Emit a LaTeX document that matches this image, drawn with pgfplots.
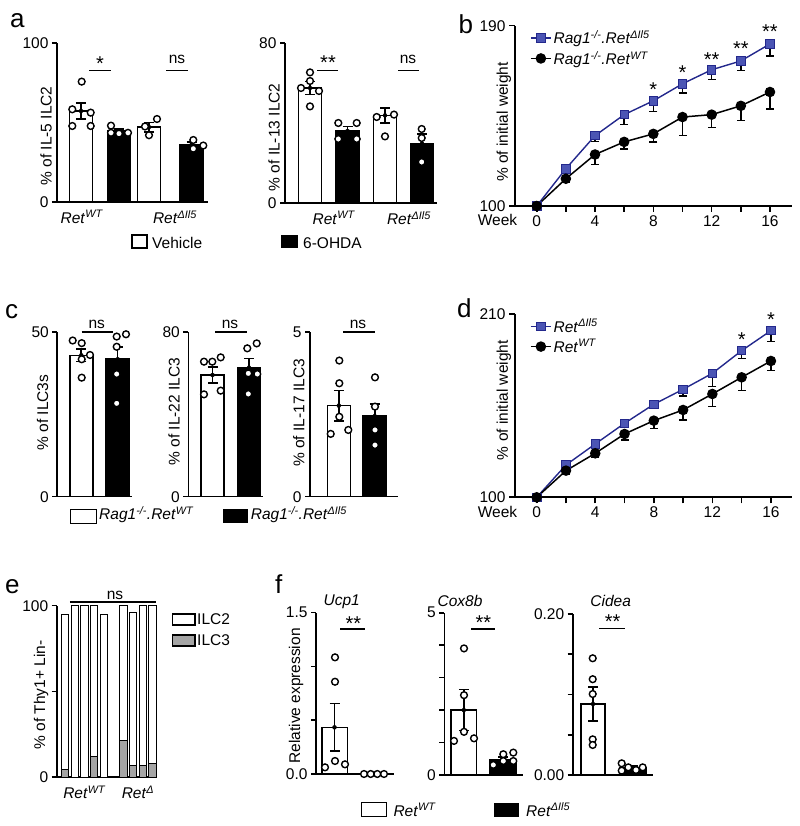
\documentclass[border=0pt]{standalone}
\usepackage{fontspec}
\setmainfont{Liberation Sans}
\usepackage{pgfplots}
\pgfplotsset{compat=1.18}
\newcommand{\fs}{\fontsize{15.5bp}{17bp}\selectfont}
\newcommand{\fst}{\fontsize{20bp}{22bp}\selectfont}
\newcommand{\fsl}{\fontsize{26bp}{30bp}\selectfont}
\newcommand{\RetWT}{\textit{Ret}\textsuperscript{\textit{WT}}}
\newcommand{\RetD}{\textit{Ret}\textsuperscript{\textit{ΔIl5}}}
\newcommand{\Rag}{\textit{Rag1}\textsuperscript{\textit{-/-}}\textit{.}}
\definecolor{bfill}{RGB}{75,85,180}
\definecolor{bline}{RGB}{35,40,140}
\definecolor{ilcgray}{RGB}{165,165,165}
\tikzset{sig/.style={line width=1.6bp, black},
  star/.style={font=\fst, anchor=base, yshift=-2.8bp, inner sep=0pt}}
\pgfplotsset{
  panel/.style={
    scale only axis, clip=false,
    axis lines=left,
    axis line style={-, line width=1.6bp, black},
    tick style={black, line width=1.6bp},
    major tick length=5bp,
    tick align=outside,
    tick label style={font=\fs},
    every axis y label/.style={rotate=90, anchor=center, font=\fs},
  },
  barpanel/.style={panel, xtick style={draw=none}},
  wbar/.style={ybar, bar shift=0pt, bar width=#1, fill=white, draw=black, line width=1.6bp},
  kbar/.style={ybar, bar shift=0pt, bar width=#1, fill=black, draw=black, line width=1.6bp},
  ebar/.style={only marks, mark=none, error bars/.cd, y dir=both, y explicit,
     error bar style={black, line width=1.6bp},
     error mark options={black, rotate=90, mark size=5bp, line width=1.6bp}},
  dots/.style={only marks, mark=*, mark size=3.4bp, mark options={fill=white, draw=black, line width=1.4bp, solid}},
  bser/.style={draw=bline, line width=1.4bp, mark=square*, mark size=4.2bp, mark options={fill=bfill, draw=bline, line width=0.8bp},
     error bars/.cd, y dir=minus, y explicit, error bar style={black, line width=1.4bp},
     error mark options={black, rotate=90, mark size=4bp, line width=1.4bp}},
  kser/.style={draw=black, line width=1.5bp, mark=*, mark size=4.5bp, mark options={fill=black, draw=black},
     error bars/.cd, y dir=minus, y explicit, error bar style={black, line width=1.4bp},
     error mark options={black, rotate=90, mark size=4bp, line width=1.4bp}},
  linelegend/.style={
     legend style={at={(axis description cs:#1)}, anchor=north west, draw=none, fill=none, font=\fs, inner sep=0pt, row sep=2bp, nodes={inner sep=2bp}},
     legend cell align=left,
     legend image code/.code={\draw[mark repeat=2,mark phase=2] plot coordinates {(0bp,0bp) (10bp,0bp) (20bp,0bp)};}},
}
\begin{document}
\begin{tikzpicture}[x=1bp,y=1bp]
\path[use as bounding box] (0bp,0bp) rectangle (800bp,826bp);

% ---------- panel letters ----------
\node[font=\fsl, anchor=base west, inner sep=0] at (10bp,798.7bp) {a};
\node[font=\fsl, anchor=base west, inner sep=0] at (458.3bp,792.7bp) {b};
\node[font=\fsl, anchor=base west, inner sep=0] at (5bp,507.7bp) {c};
\node[font=\fsl, anchor=base west, inner sep=0] at (457bp,508bp) {d};
\node[font=\fsl, anchor=base west, inner sep=0] at (5bp,232.7bp) {e};
\node[font=\fsl, anchor=base west, inner sep=0] at (275bp,232.7bp) {f};

% ---------- a left ----------
\begin{axis}[barpanel, at={(57bp,624bp)}, anchor=south west, width=151bp, height=159bp,
  xmin=57, xmax=208, ymin=0, ymax=100,
  xtick={82,175}, xticklabels={{\RetWT},{\RetD}},
  ytick={0,100}, yticklabels={0,100},
  ylabel={\% of IL-5 ILC2}, ylabel style={at={(axis description cs:-0.073,0.415)}}]
\addplot[wbar=23] coordinates {(81,57.2) (149,47.1)};
\addplot[kbar=23] coordinates {(119,44.7) (191.7,36.2)};
\addplot[ebar] coordinates {(81,57.2) +- (0,5.1) (149,47.1) +- (0,3) (119,44.7) +- (0,1.2) (191.7,36.2) +- (0,1.7)};
\addplot[dots] coordinates {(81.7,75.7) (72.3,58.3) (90.7,56.2) (72.3,47.8) (90.7,47.8)
  (157,52.2) (145,47.5) (149,42)
  (111,48) (111,43.5) (119,43) (128,43.5)
  (193.3,39) (203.3,35.5) (193.3,33.5)};
\draw[sig] (axis cs:89,82.6) -- (axis cs:111,82.6);
\node[star] at (axis cs:100,84.7) {*};
\draw[sig] (axis cs:166,82.6) -- (axis cs:188,82.6);
\node[font=\fs, anchor=base] at (axis cs:177,87.2) {ns};
\end{axis}

% ---------- a right ----------
\begin{axis}[barpanel, at={(285bp,623bp)}, anchor=south west, width=152bp, height=160bp,
  xmin=285, xmax=437, ymin=0, ymax=80,
  xtick={334,409}, xticklabels={{\RetWT},{\RetD}},
  ytick={0,80}, yticklabels={0,80},
  ylabel={\% of IL-13 ILC2}, ylabel style={at={(axis description cs:-0.072,0.41)}}]
\addplot[wbar=23] coordinates {(310,57.5) (385,43.8)};
\addplot[kbar=23] coordinates {(347.5,36) (422,29.7)};
\addplot[ebar] coordinates {(310,57.5) +- (0,3.2) (385,43.8) +- (0,3.7) (347.5,36) +- (0,2.3) (422,29.7) +- (0,4.8)};
\addplot[dots] coordinates {(310,65.3) (310,61) (301,57.5) (319,56) (310,48.3)
  (376.7,43) (394,44.2) (385,33.3)
  (338.3,40) (356.7,40) (338.3,32) (356.7,32)
  (421.7,37) (421.7,32.5) (421.7,20.5)};
\draw[sig] (axis cs:317,66.3) -- (axis cs:338,66.3);
\node[star] at (axis cs:328,68) {**};
\draw[sig] (axis cs:398,66.3) -- (axis cs:419,66.3);
\node[font=\fs, anchor=base] at (axis cs:408,69.5) {ns};
\end{axis}

% legend a
\draw[line width=1.3bp] (132bp,578bp) rectangle (147bp,591bp);
\node[font=\fs, anchor=base west, inner sep=0] at (152bp,577.7bp) {Vehicle};
\fill (281bp,578bp) rectangle (298bp,591bp);
\node[font=\fs, anchor=base west, inner sep=0] at (303bp,577.7bp) {6-OHDA};

% ---------- b ----------
\begin{axis}[panel, at={(515bp,620bp)}, anchor=south west, width=276.7bp, height=180.3bp,
  xmin=-1.488, xmax=17.49, ymin=100, ymax=190,
  xtick={0,2,...,16}, xticklabels={0,,4,,8,,12,,16},
  ytick={100,190}, yticklabels={100,190},
  major tick length=6bp,
  ylabel={\% of initial weight}, ylabel style={at={(axis description cs:-0.04,0.466)}},
  linelegend={0.054,0.985}]
\addplot[bser] coordinates {(0,100) +- (0,0) (2,118.6) +- (0,1.5) (4,135.1) +- (0,2.8) (6,145.6) +- (0,5) (8,152.5) +- (0,5.3) (10,161) +- (0,4.6) (12,168) +- (0,5) (14,172.4) +- (0,4.9) (16,180.9) +- (0,6)};
\addlegendentry{\Rag\RetD}
\addplot[kser] coordinates {(0,100) +- (0,0) (2,113.6) +- (0,2) (4,125.7) +- (0,5) (6,132) +- (0,3.5) (8,136) +- (0,4) (10,144.4) +- (0,9.3) (12,145.6) +- (0,6.3) (14,150) +- (0,7.2) (16,156.9) +- (0,8.5)};
\addlegendentry{\Rag\RetWT}
\node[star] at (axis cs:8,156.1) {*};
\node[star] at (axis cs:10,164.6) {*};
\node[star] at (axis cs:12,171.1) {**};
\node[star] at (axis cs:14,176.6) {**};
\node[star] at (axis cs:16,185.1) {**};
\end{axis}
\node[font=\fs, anchor=base] at (497.5bp,600bp) {Week};

% ---------- c1 ----------
\begin{axis}[barpanel, at={(57.3bp,329.3bp)}, anchor=south west, width=74.4bp, height=164.4bp,
  xmin=57.3, xmax=131.7, ymin=0, ymax=50, xtick=\empty,
  ytick={0,50}, yticklabels={0,50},
  ylabel={\% of ILC3s}, ylabel style={at={(axis description cs:-0.199,0.512)}}]
\addplot[wbar=23] coordinates {(81.3,43)};
\addplot[kbar=23] coordinates {(117.7,41.8)};
\addplot[ebar] coordinates {(81.3,43) +- (0,1.9) (117.7,41.8) +- (0,3.8)};
\addplot[dots] coordinates {(72.7,47.5) (81.7,46.7) (81.7,41.8) (90,43.1) (81.7,36.2)
  (116.7,48.7) (126,49.4) (116.7,45.6) (116.7,37.3) (116.7,28.4)};
\draw[sig] (axis cs:81.7,50) -- (axis cs:113.3,50);
\node[font=\fs, anchor=base] at (axis cs:96.7,51.2) {ns};
\end{axis}

% ---------- c2 ----------
\begin{axis}[barpanel, at={(188.3bp,329.3bp)}, anchor=south west, width=75bp, height=164.4bp,
  xmin=188.3, xmax=263.3, ymin=0, ymax=80, xtick=\empty,
  ytick={0,80}, yticklabels={0,80},
  ylabel={\% of IL-22 ILC3}, ylabel style={at={(axis description cs:-0.19,0.517)}}]
\addplot[wbar=23] coordinates {(212.5,59.2)};
\addplot[kbar=23] coordinates {(249,62.8)};
\addplot[ebar] coordinates {(212.5,59.2) +- (0,3.8) (249,62.8) +- (0,4.5)};
\addplot[dots] coordinates {(204,65.7) (212.3,65.7) (220.7,67.8) (204,49.8) (220.7,51.6)
  (247.3,72.2) (256.7,74.6) (248.3,60) (257.3,59.7) (248.3,50)};
\draw[sig] (axis cs:215,80) -- (axis cs:246.7,80);
\node[font=\fs, anchor=base] at (axis cs:230,81.9) {ns};
\end{axis}

% ---------- c3 ----------
\begin{axis}[barpanel, at={(310bp,329.3bp)}, anchor=south west, width=88.3bp, height=164.4bp,
  xmin=310, xmax=398.3, ymin=0, ymax=5, xtick=\empty,
  ytick={0,5}, yticklabels={0,5},
  ylabel={\% of IL-17 ILC3}, ylabel style={at={(axis description cs:-0.125,0.51)}}]
\addplot[wbar=23] coordinates {(338.8,2.77)};
\addplot[kbar=23] coordinates {(374.7,2.45)};
\addplot[ebar] coordinates {(338.8,2.77) +- (0,0.46) (374.7,2.45) +- (0,0.37)};
\addplot[dots] coordinates {(339.3,4.14) (339.3,3.45) (339.3,2.43) (330.7,1.91) (348.3,2.03)
  (375,3.63) (375,2.74) (375,2.03) (375,1.57)};
\draw[sig] (axis cs:343,5) -- (axis cs:375,5);
\node[font=\fs, anchor=base] at (axis cs:358,5.12) {ns};
\end{axis}

% legend c
\draw[line width=1.3bp] (70.7bp,302.7bp) rectangle (96.7bp,316.7bp);
\node[font=\fs, anchor=base west, inner sep=0] at (99bp,306bp) {\Rag\RetWT};
\fill (223.3bp,302.7bp) rectangle (248.3bp,316.7bp);
\node[font=\fs, anchor=base west, inner sep=0] at (250.7bp,306bp) {\Rag\RetD};

% ---------- d ----------
\begin{axis}[panel, at={(515bp,328.7bp)}, anchor=south west, width=276.7bp, height=183.3bp,
  xmin=-1.482, xmax=17.42, ymin=100, ymax=210,
  xtick={0,2,...,16}, xticklabels={0,,4,,8,,12,,16},
  ytick={100,210}, yticklabels={100,210},
  major tick length=6bp,
  ylabel={\% of initial weight}, ylabel style={at={(axis description cs:-0.04,0.53)}},
  linelegend={0.054,0.985}]
\addplot[bser] coordinates {(0,100) +- (0,0) (2,119.4) +- (0,1) (4,132) +- (0,1.6) (6,144.4) +- (0,2) (8,155.8) +- (0,2.4) (10,164.8) +- (0,4) (12,174.4) +- (0,8) (14,188) +- (0,4.6) (16,200) +- (0,6.6)};
\addlegendentry{\RetD}
\addplot[kser] coordinates {(0,100) +- (0,0) (2,116) +- (0,2) (4,126.4) +- (0,2.4) (6,138) +- (0,3.6) (8,146) +- (0,4.6) (10,152.4) +- (0,6) (12,162) +- (0,7.6) (14,172) +- (0,8) (16,181.8) +- (0,5.8)};
\addlegendentry{\RetWT}
\node[star] at (axis cs:14,192.2) {*};
\node[star] at (axis cs:16,204.2) {*};
\end{axis}
\node[font=\fs, anchor=base] at (497.5bp,308.7bp) {Week};

% ---------- e ----------
\begin{axis}[panel, at={(56.7bp,48.7bp)}, anchor=south west, width=100bp, height=171.6bp,
  xmin=0.124, xmax=10.43, ymin=0, ymax=100,
  ybar stacked, bar width=0.75,
  xtick={3,8.5}, xticklabels={{\RetWT},{\textit{Ret}\textsuperscript{\textit{Δ}}}}, xtick style={draw=none},
  ytick={0,50,100}, yticklabels={0,,100},
  ylabel={\% of Thy1+ Lin-}, ylabel style={at={(axis description cs:-0.157,0.48)}}]
\addplot[fill=ilcgray, draw=black, line width=1bp] coordinates {(1,4.3) (2,0) (3,0) (4,12.4) (5,0) (7,21.2) (8,6.6) (9,7) (10,7.8)};
\addplot[fill=white, draw=black, line width=1bp] coordinates {(1,90.3) (2,100) (3,100) (4,87.6) (5,95.1) (7,78.8) (8,89.4) (9,93) (10,92.2)};
\draw[sig] (axis cs:1.49,102.3) -- (axis cs:10.36,102.3);
\node[font=\fs, anchor=base] at (axis cs:6.13,103.7) {ns};
\end{axis}
% legend e
\draw[line width=1.2bp] (172.7bp,201bp) rectangle (195bp,212bp);
\node[font=\fs, anchor=base west, inner sep=0] at (197bp,201bp) {ILC2};
\draw[line width=1.2bp, fill=ilcgray] (172.7bp,180bp) rectangle (195bp,191bp);
\node[font=\fs, anchor=base west, inner sep=0] at (197bp,180bp) {ILC3};

% ---------- f1 ----------
\begin{axis}[barpanel, at={(316bp,52bp)}, anchor=south west, width=78bp, height=161.3bp,
  xmin=316, xmax=394, ymin=0, ymax=1.5, xtick=\empty,
  ytick={0,0.5,1,1.5}, yticklabels={0.0,,,1.5},
  ylabel={Relative expression}, ylabel style={at={(axis description cs:-0.256,0.484)}}]
\addplot[wbar=25.6] coordinates {(334.5,0.434)};
\addplot[kbar=26] coordinates {(374,0.005)};
\addplot[ebar] coordinates {(334.5,0.434) +- (0,0.22)};
\addplot[dots] coordinates {(325,0.062) (335,0.121) (345,0.09) (335,1.085) (335,0.858)
  (364,0) (370.7,0) (377.3,0) (384,0)};
\draw[sig] (axis cs:340,1.346) -- (axis cs:365,1.346);
\node[star] at (axis cs:353.3,1.363) {**};
\node[font=\fs, anchor=base] at (axis cs:341.7,1.5624) {\textit{Ucp1}};
\end{axis}

% ---------- f2 ----------
\begin{axis}[barpanel, at={(444.3bp,51bp)}, anchor=south west, width=79bp, height=162.3bp,
  xmin=444.3, xmax=523.3, ymin=0, ymax=5, xtick=\empty,
  ytick={0,1,2,3,4,5}, yticklabels={0,,,,,5}]
\addplot[wbar=25.7] coordinates {(463.8,2.0)};
\addplot[kbar=26] coordinates {(503,0.48)};
\addplot[ebar] coordinates {(463.8,2.0) +- (0,0.63) (503,0.48) +- (0,0.08)};
\addplot[dots] coordinates {(454,1.05) (464,1.33) (474,1.13) (464,2.46) (464,3.9)
  (493.3,0.31) (503.3,0.64) (513.3,0.69) (503.3,0.43) (513.3,0.43)};
\draw[sig] (axis cs:471,4.489) -- (axis cs:495,4.489);
\node[star] at (axis cs:483.3,4.56) {**};
\node[font=\fs, anchor=base] at (axis cs:460,5.206) {\textit{Cox8b}};
\end{axis}

% ---------- f3 ----------
\begin{axis}[barpanel, at={(572.7bp,51bp)}, anchor=south west, width=80bp, height=161bp,
  xmin=572.7, xmax=652.7, ymin=0, ymax=0.2, xtick=\empty,
  ytick={0,0.05,0.1,0.15,0.2}, yticklabels={0.00,,,,0.20}]
\addplot[wbar=24.3] coordinates {(593,0.0882)};
\addplot[kbar=26] coordinates {(633,0.009)};
\addplot[ebar] coordinates {(593,0.0882) +- (0,0.0214) (633,0.009) +- (0,0.002)};
\addplot[dots] coordinates {(592.7,0.145) (592.7,0.119) (592.7,0.1006) (592.7,0.0443) (592.7,0.0373)
  (621.7,0.0145) (628.3,0.0095) (636,0.0062) (642.7,0.0095) (621.7,0.0054)};
\draw[sig] (axis cs:599.3,0.1822) -- (axis cs:625,0.1822);
\node[star] at (axis cs:612.7,0.1851) {**};
\node[font=\fs, anchor=base] at (axis cs:610.7,0.2091) {\textit{Cidea}};
\end{axis}

% legend f
\draw[line width=1.3bp] (361.7bp,9.3bp) rectangle (386.7bp,23.3bp);
\node[font=\fs, anchor=base west, inner sep=0] at (393.3bp,10bp) {\RetWT};
\fill (494bp,9.3bp) rectangle (519.3bp,23.3bp);
\node[font=\fs, anchor=base west, inner sep=0] at (526bp,10bp) {\RetD};
\end{tikzpicture}
\end{document}
